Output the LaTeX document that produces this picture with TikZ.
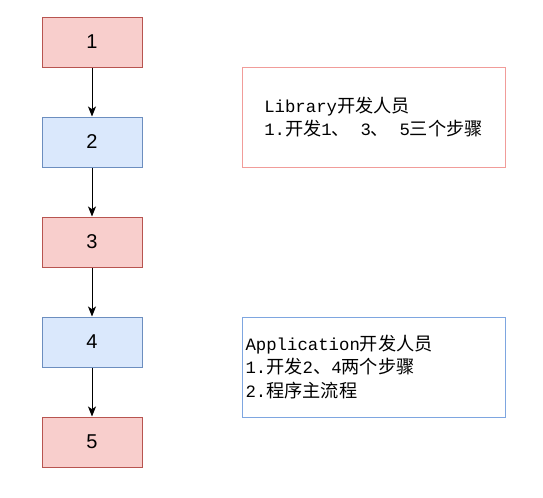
\documentclass[tikz,border=0pt]{standalone}
\usepackage{fontspec}
\setmainfont{Liberation Sans}
\newfontfamily\cjk[Scale=1.05]{Noto Sans CJK SC}
\newfontfamily\mono{Liberation Mono}
\newcommand{\zh}[1]{{\cjk #1}}
\usepackage{xcolor}
\usepackage{tikz}
\usetikzlibrary{positioning, arrows.meta}
\definecolor{RedFill}{HTML}{F8CECC}
\definecolor{RedLine}{HTML}{B85450}
\definecolor{BlueFill}{HTML}{DAE8FC}
\definecolor{BlueLine}{HTML}{6C8EBF}
\definecolor{NotePink}{HTML}{F19C99}
\definecolor{NoteBlue}{HTML}{7EA6E0}

\begin{document}
\begin{tikzpicture}[
            x=0.75pt, y=-0.75pt,
            redbox/.style={draw=RedLine, fill=RedFill, line width=0.75pt, minimum width=75pt, minimum height=37.5pt, font=\fontsize{15pt}{18pt}\selectfont},
            bluebox/.style={redbox, draw=BlueLine, fill=BlueFill},
            notebox/.style={draw, fill=white, line width=0.75pt, minimum width=197.25pt, minimum height=75pt, align=left, font=\mono\fontsize{13pt}{17.6pt}\selectfont},
            flow/.style={-{Stealth[length=7.5pt, width=6pt, inset=2pt]}, line width=0.75pt}
        ]
            \useasboundingbox (0,0) rectangle (543,497);

            \node[redbox] at (92, 42) (step1) {1};
            \node[bluebox] at (92, 142) (step2) {2};
            \node[redbox] at (92, 242) (step3) {3};
            \node[bluebox] at (92, 342) (step4) {4};
            \node[redbox] at (92, 442) (step5) {5};

            \draw[flow] (step1) -- (step2);
            \draw[flow] (step2) -- (step3);
            \draw[flow] (step3) -- (step4);
            \draw[flow] (step4) -- (step5);

            \node[notebox, draw=NotePink] at (373.5, 117) (libbox) {
                Library\zh{开发人员}\\
                1.\zh{开发}1\zh{、} 3\zh{、} 5\zh{三个步骤}
            };

            \node[notebox, draw=NoteBlue, text width=192pt, inner xsep=2.25pt] at (373.5, 367) (appbox) {
                Application\zh{开发人员}\\
                1.\zh{开发}2\zh{、}4\zh{两个步骤}\\
                2.\zh{程序主流程}
            };

        \end{tikzpicture}
\end{document}
